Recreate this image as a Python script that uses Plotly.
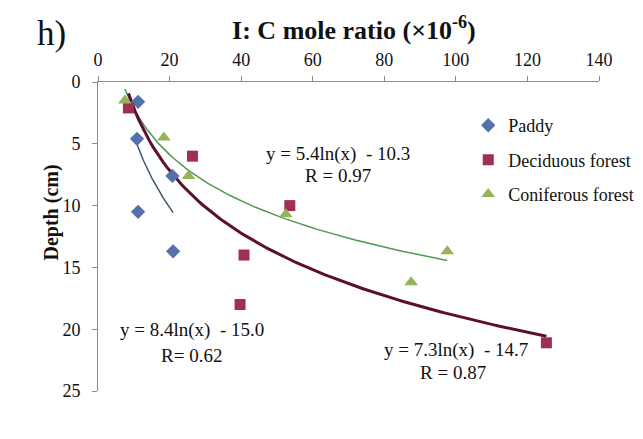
import numpy as np
import plotly.graph_objects as go

# ---- data ----
paddy_x = [11.2, 10.9, 20.8, 11.2, 21.0]
paddy_y = [1.6, 4.6, 7.6, 10.5, 13.7]

decid_x = [8.5, 26.4, 53.6, 40.8, 39.7, 125.3]
decid_y = [2.1, 6.0, 10.0, 14.0, 18.0, 21.1]

conif_x = [7.5, 18.4, 25.3, 52.5, 97.6, 87.5]
conif_y = [1.5, 4.5, 7.6, 10.7, 13.7, 16.2]

# trendline coefficients y = a*ln(x) + b (from the equations shown)
paddy_fit = (8.4, -15.0)
decid_fit = (7.3, -14.7)
conif_fit = (5.4, -10.3)

x_ticks = [0, 20, 40, 60, 80, 100, 120, 140]
y_ticks = [0, 5, 10, 15, 20, 25]

SERIF = "Liberation Serif, Times New Roman, DejaVu Serif, serif"

def trend(xs, fit, start=None):
    lo = min(xs) if start is None else start
    xx = np.linspace(lo, max(xs), 120)
    return xx, fit[0] * np.log(xx) + fit[1]

fig = go.Figure()

# trendlines
tx, ty = trend(paddy_x, paddy_fit, start=10.5)
fig.add_trace(go.Scatter(x=tx, y=ty, mode="lines", showlegend=False,
                         line=dict(color="#3f5468", width=1.5), hoverinfo="skip"))
tx, ty = trend(conif_x, conif_fit)
fig.add_trace(go.Scatter(x=tx, y=ty, mode="lines", showlegend=False,
                         line=dict(color="#4f9a52", width=1.5), hoverinfo="skip"))
tx, ty = trend(decid_x, decid_fit)
fig.add_trace(go.Scatter(x=tx, y=ty, mode="lines", showlegend=False,
                         line=dict(color="#5c0f2e", width=3), hoverinfo="skip"))

# points
fig.add_trace(go.Scatter(x=paddy_x, y=paddy_y, mode="markers", name="Paddy",
                         legendgroup="a",
                         marker=dict(symbol="diamond", size=11, color="#5570aa")))
fig.add_trace(go.Scatter(x=decid_x, y=decid_y, mode="markers", name="Deciduous forest",
                         legendgroup="b",
                         marker=dict(symbol="square", size=11, color="#a02f52")))
fig.add_trace(go.Scatter(x=conif_x, y=conif_y, mode="markers", name="Coniferous forest",
                         legendgroup="c",
                         marker=dict(symbol="triangle-up", size=12, color="#96b45a")))

ann_font = dict(family=SERIF, size=19, color="#111111")
annotations = [
    dict(x=67.2, y=5.8, text="y = 5.4ln(x)  - 10.3", showarrow=False, font=ann_font),
    dict(x=67.2, y=7.6, text="R = 0.97", showarrow=False, font=ann_font),
    dict(x=26.4, y=20.1, text="y = 8.4ln(x)  - 15.0", showarrow=False, font=ann_font),
    dict(x=26.2, y=22.1, text="R= 0.62", showarrow=False, font=ann_font),
    dict(x=100.0, y=21.7, text="y = 7.3ln(x)  - 14.7", showarrow=False, font=ann_font),
    dict(x=99.2, y=23.5, text="R = 0.87", showarrow=False, font=ann_font),
    dict(xref="paper", yref="paper", x=-0.093, y=0.579, text="<b>Depth (cm)</b>",
         textangle=-90, xanchor="center", yanchor="middle", showarrow=False,
         font=dict(family=SERIF, size=20, color="#111111")),
    dict(xref="paper", yref="paper", x=-0.093, y=1.157, text="h)", xanchor="center",
         yanchor="middle", showarrow=False,
         font=dict(family=SERIF, size=35, color="#111111")),
]

axis_common = dict(showgrid=False, zeroline=False, showline=True, linecolor="#8c8c8c",
                   linewidth=1, ticks="outside", ticklen=5, tickcolor="#8c8c8c",
                   automargin=False,
                   tickfont=dict(family=SERIF, size=18, color="#111111"))

fig.update_layout(
    width=643, height=439,
    margin=dict(l=90, r=28, t=74, b=56),
    paper_bgcolor="white", plot_bgcolor="white",
    font=dict(family=SERIF),
    title=dict(text="<b>I: C mole ratio (×10<sup>-6</sup>)</b>", x=0.538, xanchor="center",
               y=0.95, yanchor="middle", automargin=False,
               font=dict(family=SERIF, size=26, color="#111111")),
    xaxis=dict(range=[0, 140], side="top", tickvals=x_ticks, ticklabelstandoff=3,
               **axis_common),
    yaxis=dict(range=[25, 0], tickvals=y_ticks, ticklabelstandoff=8, **axis_common),
    legend=dict(x=0.739, y=0.919, xanchor="left", yanchor="top", bgcolor="rgba(0,0,0,0)",
                tracegroupgap=8, font=dict(family=SERIF, size=18, color="#111111")),
    annotations=annotations,
    showlegend=True,
)

fig.write_html("out.html")
